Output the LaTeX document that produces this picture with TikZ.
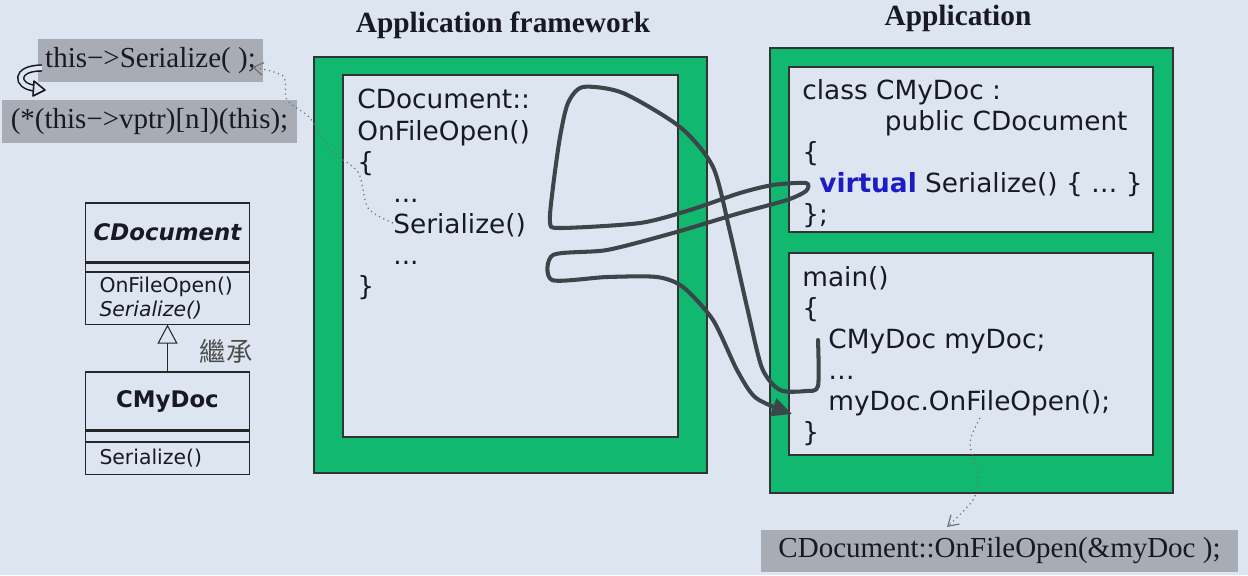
\documentclass[tikz,border=0pt]{standalone}
\usepackage{fontspec}
\setmainfont{Liberation Serif}
\setsansfont{DejaVu Sans}
\newfontfamily\cjk{Noto Sans CJK TC}
\usetikzlibrary{positioning,arrows.meta}
\definecolor{slidebg}{RGB}{221,229,241}
\definecolor{framegreen}{RGB}{16,184,112}
\definecolor{codegrey}{RGB}{168,173,181}
\definecolor{inkdark}{RGB}{60,70,72}
\definecolor{kwblue}{RGB}{28,28,196}
\definecolor{textdark}{RGB}{25,25,35}
\begin{document}
\begin{tikzpicture}[x=0.02cm, y=-0.02cm,
    greenframe/.style={draw=black!80, fill=framegreen, line width=0.6pt},
    innerframe/.style={draw=black!80, fill=slidebg, line width=0.6pt},
    code/.style={font=\sffamily\fontsize{15pt}{17.7pt}\selectfont, text=textdark, align=left, anchor=north west, inner sep=0pt},
    title/.style={font=\bfseries\fontsize{16.7pt}{20pt}\selectfont, text=textdark},
    greybox/.style={fill=codegrey, font=\fontsize{16.5pt}{20pt}\selectfont, text=textdark, inner sep=0pt},
    umlpart/.style={draw=black!85, fill=slidebg, minimum width=3.28cm, inner sep=0pt, line width=0.6pt},
    umlname/.style={umlpart, font=\sffamily\bfseries\fontsize{13pt}{15pt}\selectfont, text=textdark},
    umlops/.style={umlpart, font=\sffamily\fontsize{11.6pt}{13.5pt}\selectfont, text=textdark, align=left, text width=2.72cm, inner xsep=0.28cm},
    handline/.style={inkdark, line width=2.3pt, line cap=round, line join=round, -{Triangle[length=0.4cm, width=0.36cm]}},
    dotline/.style={black!55, dotted, line width=0.7pt, -{Straight Barb[length=0.2cm, width=0.25cm]}}]
\fill[slidebg] (0,0) rectangle (1248,575);
\useasboundingbox (0,0) rectangle (1248,575);

% titles
\node[title] (fwtitle) at (503,25) {Application framework};
\node[title] (apptitle) at (958,18) {Application};

% framework
\draw[greenframe] (314,57) rectangle (707,473);
\draw[innerframe] (343,75) rectangle (678,437);
\node[code] (fwcode) at (357,89) {CDocument::\\OnFileOpen()\\\{\\\hspace*{20.5pt}...\\\hspace*{20.5pt}Serialize()\\\hspace*{20.5pt}...\\\}};

% application
\draw[greenframe] (770,48) rectangle (1173,493);
\draw[innerframe] (789,67) rectangle (1153,232);
\draw[innerframe] (789,253) rectangle (1153,455);
\node[code] (mydoccode) at (802,79) {class CMyDoc :\\\hspace*{47pt}public CDocument\\\{\\\hspace*{9.7pt}\textbf{\textcolor{kwblue}{virtual}} Serialize() \{ … \}\\\};};
\node[code] (maincode) at (802,266) {main()\\\{\\\hspace*{14.8pt}CMyDoc myDoc;\\\hspace*{14.8pt}…\\\hspace*{14.8pt}myDoc.OnFileOpen();\\\}};

% grey code boxes
\node[greybox, minimum width=4.5cm, minimum height=0.86cm] (thisser) at (150.5,60.5) {this−>Serialize( );};
\node[greybox, minimum width=5.9cm, minimum height=0.86cm] (vptrcall) at (149.5,121.5) {(*(this−>vptr)[n])(this);};
\node[greybox, minimum width=9.54cm, minimum height=0.84cm] (callopen) at (999.5,551) {CDocument::OnFileOpen(\&myDoc );};
\draw[double=slidebg, double distance=2.4pt, line width=0.9pt, textdark] (42,68) .. controls (14,68) and (16,86) .. (34,88);
\draw[textdark, line width=0.9pt, fill=slidebg, line join=round] (34,81) -- (45,90) -- (33,96) -- cycle;

% class diagram
\node[umlname, minimum height=1.18cm, font=\sffamily\bfseries\itshape\fontsize{13pt}{15pt}\selectfont] (cdocname) at (167.5,232.5) {CDocument};
\node[umlpart, minimum height=0.16cm, below=0pt of cdocname] (cdocattr) {};
\node[umlops, minimum height=1.04cm, below=0pt of cdocattr] (cdocops) {OnFileOpen()\\\textit{Serialize()}};
\node[umlname, minimum height=1.16cm] (mydocname) at (167.5,401) {CMyDoc};
\node[umlpart, minimum height=0.2cm, below=0pt of mydocname] (mydocattr) {};
\node[umlops, minimum height=0.64cm, below=0pt of mydocattr] (mydocops) {Serialize()};
\draw[black!85, line width=0.6pt, -{Triangle[open, length=0.38cm, width=0.4cm]}] (mydocname) -- (cdocops);
\node[font=\cjk\fontsize{15pt}{17pt}\selectfont, text=black!70] (inherit) at (226,351) {繼承};

% hand-drawn call path
\coordinate (calljump) at (818,340);
\coordinate (returnpt) at (792,414);
\draw[handline] plot[smooth, tension=0.45] coordinates {(calljump) (818,386) (806,391) (780,390) (762,368) (747,307) (730,232) (713,167) (680,127) (623,93) (583,87) (568,103) (560,137) (553,187) (550,222) (560,228) (640,223) (690,210) (740,193) (773,185) (806,183) (806,191) (787,200) (740,213) (673,233) (607,250) (553,255) (552,280) (607,277) (657,277) (683,287) (713,320) (737,370) (756,398) (returnpt)};

% dotted hints
\coordinate (serfrom) at (393,223);
\coordinate (serto) at (252,67);
\draw[dotline] plot[smooth] coordinates {(serfrom) (368,208) (358,172) (330,150) (310,118) (287,100) (283,76) (serto)};
\coordinate (openfrom) at (980,418);
\coordinate (opento) at (947,527);
\draw[dotline] plot[smooth] coordinates {(openfrom) (970,443) (978,477) (973,500) (opento)};
\end{tikzpicture}
\end{document}
